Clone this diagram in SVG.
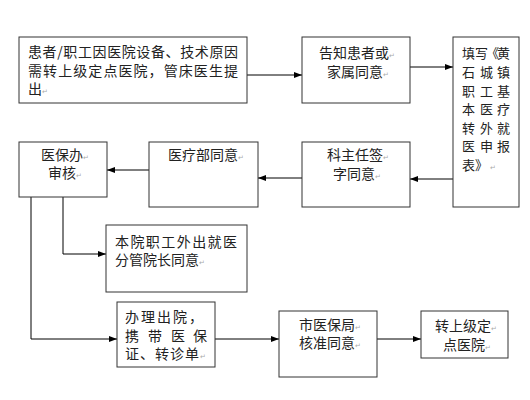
<svg xmlns="http://www.w3.org/2000/svg" width="530" height="400" viewBox="0 0 530 400">
<defs>
<marker id="ah" markerWidth="8" markerHeight="6" refX="8" refY="3" orient="auto" markerUnits="userSpaceOnUse">
<path d="M0,0 L8,3 L0,6 Z" fill="#000"/>
</marker>
<style>
rect{fill:#fff;stroke:#333;stroke-width:1}
text{font-family:"Noto Sans CJK SC","Liberation Sans",sans-serif;font-size:14px;fill:#222}
.s{font-size:13px}
.pm{font-family:"DejaVu Sans",sans-serif;font-size:7px;fill:#aaa}
.c{fill:none;stroke:#000;stroke-width:1}
</style>
</defs>
<rect x="0" y="0" width="530" height="400" style="fill:#fff;stroke:none"/>
<g id="connectors">
<line class="c" x1="247" y1="75" x2="302" y2="75" marker-end="url(#ah)"/>
<line class="c" x1="410" y1="67" x2="453" y2="67" marker-end="url(#ah)"/>
<line class="c" x1="453" y1="179" x2="410" y2="179" marker-end="url(#ah)"/>
<line class="c" x1="302" y1="178" x2="258" y2="178" marker-end="url(#ah)"/>
<line class="c" x1="149" y1="170" x2="107" y2="170" marker-end="url(#ah)"/>
<polyline class="c" points="63,197 63,254 106,254" marker-end="url(#ah)"/>
<polyline class="c" points="31,197 31,339 117,339" marker-end="url(#ah)"/>
<line class="c" x1="215" y1="339" x2="279" y2="339" marker-end="url(#ah)"/>
<line class="c" x1="377" y1="339" x2="421" y2="339" marker-end="url(#ah)"/>
</g>
<g id="n1">
<rect x="19" y="37" width="228" height="66"/>
<text x="28" y="57" textLength="210" lengthAdjust="spacing">患者/职工因医院设备、技术原因</text>
<text x="28" y="76" textLength="210" lengthAdjust="spacing">需转上级定点医院，管床医生提</text>
<text x="28" y="94">出<tspan class="pm">↵</tspan></text>
</g>
<g id="n2">
<rect x="302" y="37" width="108" height="66"/>
<text x="319" y="58">告知患者或<tspan class="pm">↵</tspan></text>
<text x="327" y="77">家属同意<tspan class="pm">↵</tspan></text>
</g>
<g id="n3">
<rect x="453" y="37" width="66" height="170"/>
<text class="s" x="462 475 486 497" y="58">填写《黄</text>
<text class="s" x="462 480 497" y="77">石城镇</text>
<text class="s" x="462 480 497" y="96">职工基</text>
<text class="s" x="462 480 497" y="114">本医疗</text>
<text class="s" x="462 480 497" y="133">转外就</text>
<text class="s" x="462 480 497" y="151">医申报</text>
<text class="s" x="462 475" y="170">表》<tspan class="pm" x="490">↵</tspan></text>
</g>
<g id="n4">
<rect x="302" y="142" width="108" height="65"/>
<text x="327" y="160">科主任签<tspan class="pm">↵</tspan></text>
<text x="333" y="179">字同意<tspan class="pm">↵</tspan></text>
</g>
<g id="n5">
<rect x="149" y="142" width="109" height="65"/>
<text x="168" y="160">医疗部同意<tspan class="pm">↵</tspan></text>
</g>
<g id="n6">
<rect x="19" y="142" width="88" height="55"/>
<text x="41" y="160">医保办<tspan class="pm">↵</tspan></text>
<text x="48" y="178">审核<tspan class="pm">↵</tspan></text>
</g>
<g id="n7">
<rect x="106" y="225" width="141" height="67"/>
<text x="115" y="247" textLength="122" lengthAdjust="spacing">本院职工外出就医</text>
<text x="115" y="265">分管院长同意<tspan class="pm">↵</tspan></text>
</g>
<g id="n8">
<rect x="117" y="302" width="98" height="65"/>
<text x="125" y="322" textLength="78" lengthAdjust="spacing">办理出院，</text>
<text x="125 148 171 193" y="341">携带医保</text>
<text x="125" y="359" textLength="74" lengthAdjust="spacing">证、转诊单</text><text class="pm" x="200" y="359">↵</text>
</g>
<g id="n9">
<rect x="279" y="311" width="98" height="66"/>
<text x="299" y="330">市医保局<tspan class="pm">↵</tspan></text>
<text x="299" y="348">核准同意<tspan class="pm">↵</tspan></text>
</g>
<g id="n10">
<rect x="421" y="311" width="87" height="47"/>
<text x="435" y="331">转上级定<tspan class="pm">↵</tspan></text>
<text x="443" y="350">点医院<tspan class="pm">↵</tspan></text>
</g>
</svg>
